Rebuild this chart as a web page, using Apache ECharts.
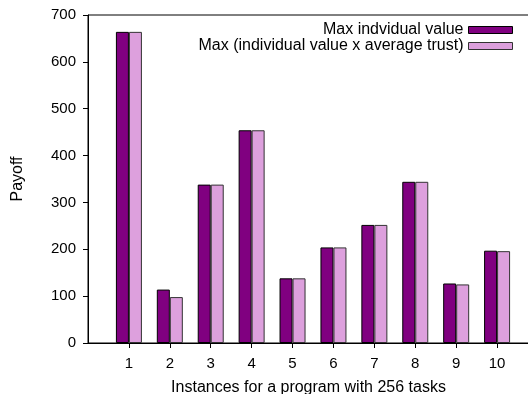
<!DOCTYPE html>
<html><head><meta charset="utf-8">
<script src="https://cdn.jsdelivr.net/npm/echarts@6/dist/echarts.min.js"></script>
<style>html,body{margin:0;padding:0;background:#fff}#c{width:528px;height:394px}</style>
</head><body><div id="c"></div>
<script>
var categories = [1, 2, 3, 4, 5, 6, 7, 8, 9, 10];
var maxIndividual = [664, 114, 338, 454, 138, 204, 252, 344, 127, 197];
var maxTrust = [664, 98, 338, 454, 138, 204, 252, 344, 125, 196];
var yTicks = [0, 100, 200, 300, 400, 500, 600, 700];
var seriesNames = ['Max indvidual value', 'Max (individual value x average trust)'];

var FONT = '"Liberation Sans", Arial, sans-serif';
function pairs(vals) { return categories.map(function (c, i) { return [c, vals[i]]; }); }

var chart = echarts.init(document.getElementById('c'));
chart.setOption({
  animation: false,
  backgroundColor: '#fff',
  textStyle: { fontFamily: FONT },
  grid: { left: 88, right: -1, top: 15, bottom: 51, show: true, borderColor: '#000', borderWidth: 1,
    outerBoundsMode: 'none', containLabel: false },
  legend: {
    orient: 'vertical', right: 10, top: 17, align: 'right',
    icon: 'rect', itemWidth: 44, itemHeight: 7, itemGap: 0,
    itemStyle: { borderWidth: 1 },
    textStyle: { fontSize: 16, color: '#000', fontFamily: FONT, lineHeight: 16 },
    data: seriesNames
  },
  xAxis: {
    type: 'value', min: 0, max: 10.78, interval: 1,
    name: 'Instances for a program with 256 tasks', nameLocation: 'middle', nameGap: 37,
    nameTextStyle: { fontSize: 16, color: '#000', fontFamily: FONT },
    axisLine: { show: true, lineStyle: { color: '#000', width: 1 } },
    axisTick: { show: true, length: 5, customValues: categories, lineStyle: { color: '#000' } },
    axisLabel: { fontSize: 15, color: '#000', margin: 13, customValues: categories, fontFamily: FONT },
    splitLine: { show: false }
  },
  yAxis: {
    type: 'value', min: 0, max: 700, interval: 100,
    name: 'Payoff', nameLocation: 'middle', nameGap: 62, nameRotate: 90,
    nameTextStyle: { fontSize: 16, color: '#000', fontFamily: FONT },
    axisLine: { show: true, lineStyle: { color: '#000', width: 1 } },
    axisTick: { show: true, length: 5, lineStyle: { color: '#000' } },
    axisLabel: { fontSize: 15, color: '#000', margin: 12, fontFamily: FONT,
      customValues: yTicks },
    splitLine: { show: false }
  },
  series: [
    { name: seriesNames[0], type: 'bar', data: pairs(maxIndividual), barWidth: 13, barGap: '0%',
      itemStyle: { color: '#800080', borderColor: '#000', borderWidth: 1 } },
    { name: seriesNames[1], type: 'bar', data: pairs(maxTrust), barWidth: 13, barGap: '0%',
      itemStyle: { color: '#DDA0DD', borderColor: '#333', borderWidth: 1 } }
  ]
});
</script></body></html>
